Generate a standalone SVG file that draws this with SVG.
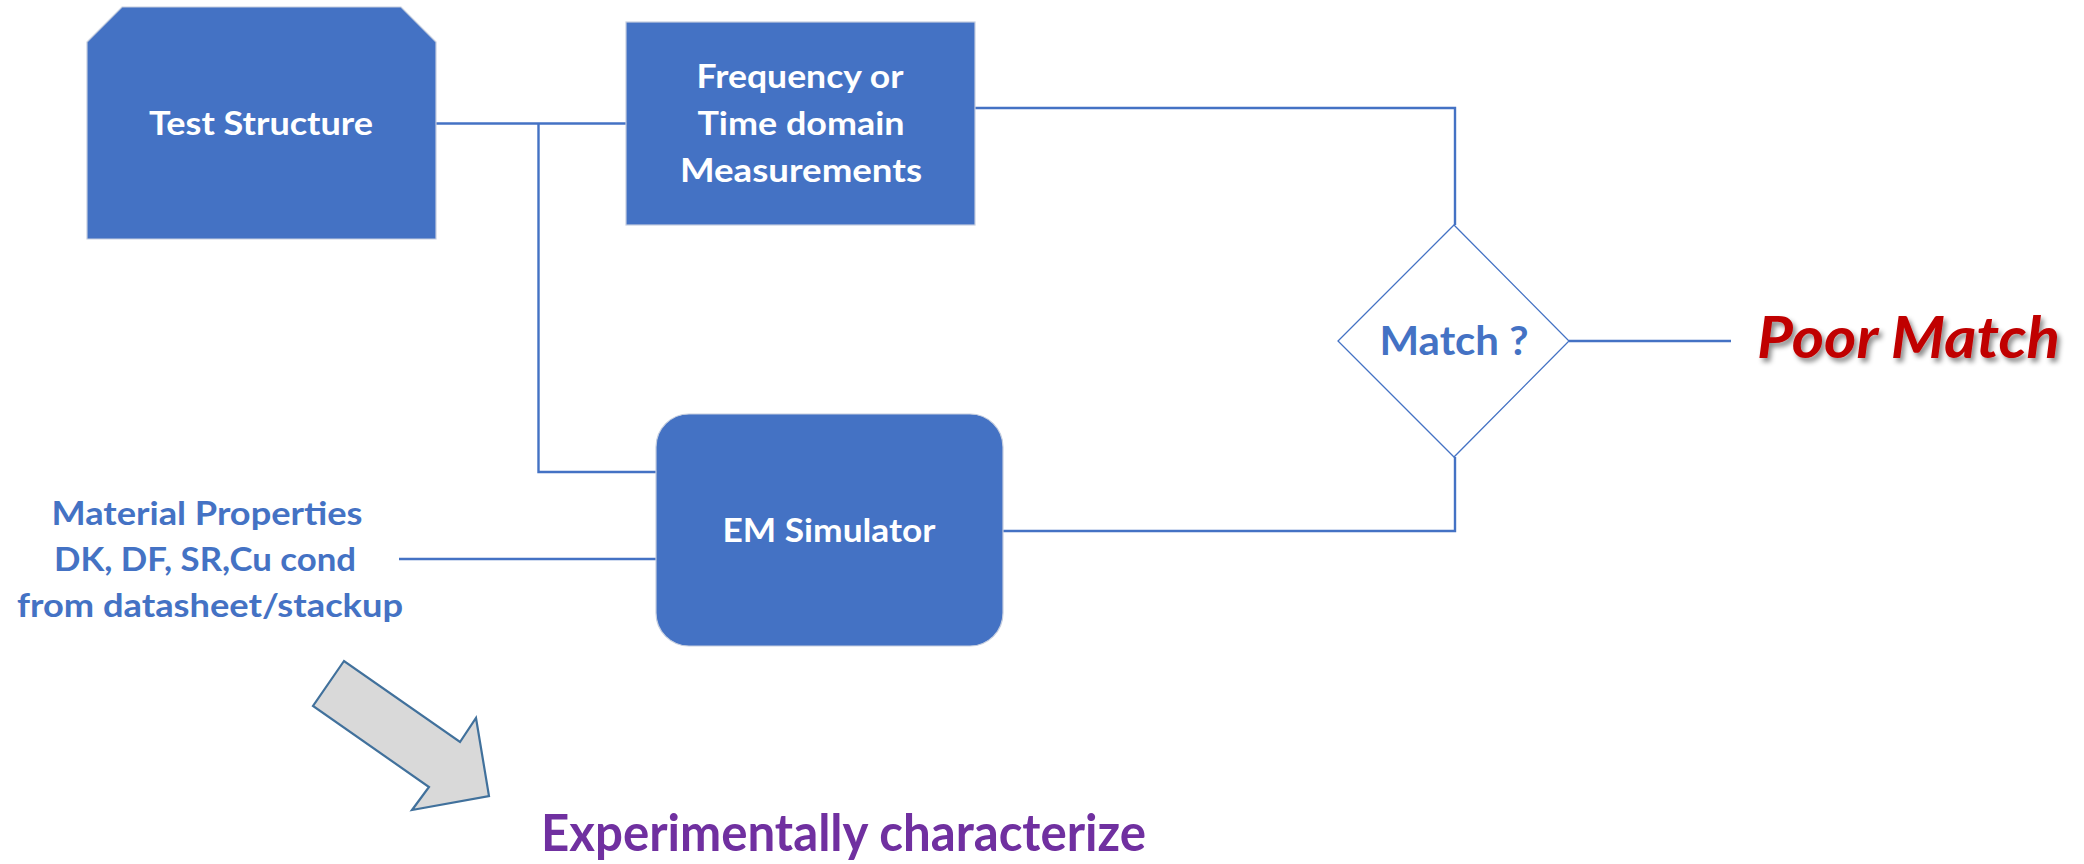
<svg xmlns="http://www.w3.org/2000/svg" width="2084" height="864" viewBox="0 0 2084 864">
<defs>
<style>
.box{fill:#4472C4;stroke:#C5CEDF;stroke-width:1.2}
.wt{fill:#FFFFFF;font-family:Lato,"Open Sans","Liberation Sans",sans-serif;font-weight:700;font-size:33px;text-anchor:middle}
.bt{fill:#4472C4;font-family:Lato,"Open Sans","Liberation Sans",sans-serif;font-weight:700;font-size:33px;text-anchor:middle}
.conn{fill:none;stroke:#4472C4;stroke-width:2.4}
</style>
<filter id="sh" x="-10%" y="-20%" width="130%" height="150%">
<feDropShadow dx="3" dy="4" stdDeviation="2.5" flood-color="#000000" flood-opacity="0.45"/>
</filter>
</defs>
<rect width="2084" height="864" fill="#FFFFFF"/>
<g id="connectors">
<polyline class="conn" points="436,123.5 626,123.5"/>
<polyline class="conn" points="538.5,123.5 538.5,472 656,472"/>
<polyline class="conn" points="975,108 1455,108 1455,225"/>
<polyline class="conn" points="1003,531 1455,531 1455,457"/>
<polyline class="conn" points="399,559 656,559"/>
<polyline class="conn" points="1569,341 1731,341"/>
</g>
<g id="test-structure">
<polygon class="box" points="122,7 401,7 436,42 436,239 87,239 87,42"/>
<text class="wt" x="261" y="135" textLength="224" lengthAdjust="spacingAndGlyphs">Test Structure</text>
</g>
<g id="measurements">
<rect class="box" x="626" y="22" width="349" height="203"/>
<text class="wt" x="800" y="88" textLength="207" lengthAdjust="spacingAndGlyphs">Frequency or</text>
<text class="wt" x="801" y="135" textLength="207" lengthAdjust="spacingAndGlyphs">Time domain</text>
<text class="wt" x="801" y="182" textLength="242" lengthAdjust="spacingAndGlyphs">Measurements</text>
</g>
<g id="em-simulator">
<rect class="box" x="656" y="414" width="347" height="232" rx="33" ry="33"/>
<text class="wt" x="829" y="542" textLength="213" lengthAdjust="spacingAndGlyphs">EM Simulator</text>
</g>
<g id="match">
<polygon points="1454,225 1569,341 1454,457 1338,341" fill="#FFFFFF" stroke="#4472C4" stroke-width="1.3"/>
<text class="bt" x="1454" y="355" style="font-size:40px" textLength="149" lengthAdjust="spacingAndGlyphs">Match ?</text>
</g>
<g id="poor-match">
<text x="1757" y="358" filter="url(#sh)" style="fill:#C00000;font-family:Lato,'Open Sans','Liberation Sans',sans-serif;font-weight:700;font-style:italic;font-size:58px" textLength="303" lengthAdjust="spacingAndGlyphs">Poor Match</text>
</g>
<g id="material-properties">
<text class="bt" x="207" y="525" textLength="311" lengthAdjust="spacingAndGlyphs">Material Properties</text>
<text class="bt" x="205" y="571" textLength="302" lengthAdjust="spacingAndGlyphs">DK, DF, SR,Cu cond</text>
<text class="bt" x="210" y="617" textLength="386" lengthAdjust="spacingAndGlyphs">from datasheet/stackup</text>
</g>
<g id="arrow">
<polygon points="344,661 313,706 429,787 412,810 489,796 476,718 460,742" fill="#D9D9D9" stroke="#41719C" stroke-width="2.2" stroke-linejoin="miter"/>
</g>
<g id="experimentally">
<text x="541" y="851" style="fill:#7030A0;font-family:Lato,'Open Sans','Liberation Sans',sans-serif;font-weight:700;font-size:51px" textLength="605" lengthAdjust="spacingAndGlyphs">Experimentally characterize</text>
</g>
</svg>
